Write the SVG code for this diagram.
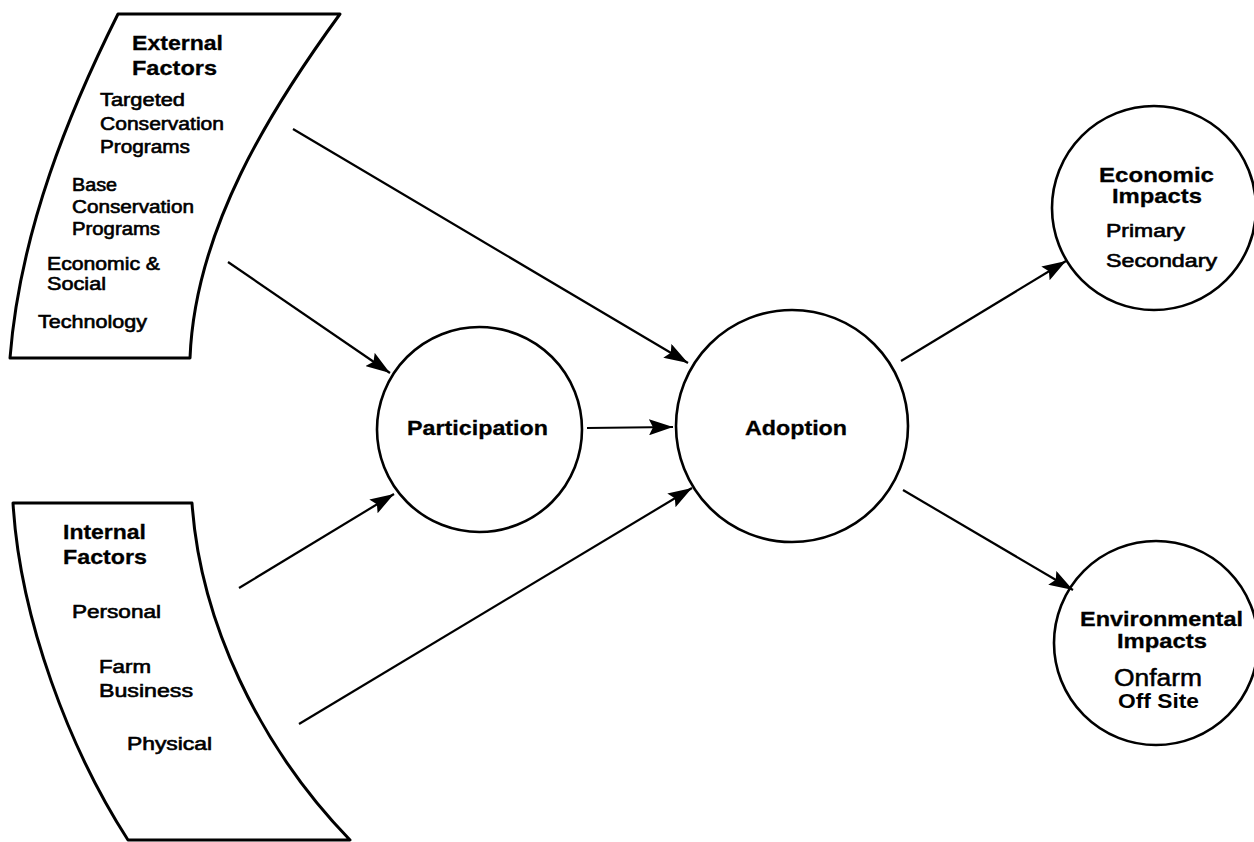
<svg xmlns="http://www.w3.org/2000/svg" width="1254" height="842" viewBox="0 0 1254 842">
<style>
.shape{fill:#fff;stroke:#000;stroke-width:3;stroke-linejoin:round}
.circ{fill:#fff;stroke:#000;stroke-width:2.6}
.conn{fill:none;stroke:#000;stroke-width:2.2}
text{font-family:"Liberation Sans",Arial,Helvetica,sans-serif;fill:#000}
.t{font-size:21px;font-weight:bold;stroke:#000;stroke-width:0.3}
.i{font-size:18px;font-weight:normal;stroke:#000;stroke-width:0.6}
.ib{font-size:20px;font-weight:bold}
.on{font-size:23px;font-weight:normal;stroke:#000;stroke-width:0.5}
</style>
<defs>
<marker id="ah" markerUnits="userSpaceOnUse" markerWidth="26" markerHeight="16" refX="24" refY="8" orient="auto">
<path d="M0,0 L24,8 L0,16 L4,8 z" fill="#000"/>
</marker>
</defs>
<rect width="1254" height="842" fill="#fff"/>

<g id="external-factors">
<path class="shape" d="M118,14 L340,14 C270,110 195,230 190,358 L10,358 C20,230 70,110 118,14 Z"/>
<text class="t" x="132" y="50" textLength="91" lengthAdjust="spacingAndGlyphs">External</text>
<text class="t" x="132" y="75" textLength="85" lengthAdjust="spacingAndGlyphs">Factors</text>
<text class="i" x="100" y="106" textLength="85" lengthAdjust="spacingAndGlyphs">Targeted</text>
<text class="i" x="100" y="130" textLength="124" lengthAdjust="spacingAndGlyphs">Conservation</text>
<text class="i" x="100" y="153" textLength="90" lengthAdjust="spacingAndGlyphs">Programs</text>
<text class="i" x="72" y="191" textLength="45" lengthAdjust="spacingAndGlyphs">Base</text>
<text class="i" x="72" y="213" textLength="122" lengthAdjust="spacingAndGlyphs">Conservation</text>
<text class="i" x="72" y="235" textLength="88" lengthAdjust="spacingAndGlyphs">Programs</text>
<text class="i" x="47" y="270" textLength="113" lengthAdjust="spacingAndGlyphs">Economic &amp;</text>
<text class="i" x="47" y="290" textLength="59" lengthAdjust="spacingAndGlyphs">Social</text>
<text class="i" x="38" y="328" textLength="109" lengthAdjust="spacingAndGlyphs">Technology</text>
</g>

<g id="internal-factors">
<path class="shape" d="M13,503 L192,503 C200,620 258,745 350,840 L128,840 C70,750 20,620 13,503 Z"/>
<text class="t" x="63" y="539" textLength="83" lengthAdjust="spacingAndGlyphs">Internal</text>
<text class="t" x="63" y="564" textLength="84" lengthAdjust="spacingAndGlyphs">Factors</text>
<text class="i" x="72" y="618" textLength="89" lengthAdjust="spacingAndGlyphs">Personal</text>
<text class="i" x="99" y="673" textLength="52" lengthAdjust="spacingAndGlyphs">Farm</text>
<text class="i" x="99" y="697" textLength="94" lengthAdjust="spacingAndGlyphs">Business</text>
<text class="i" x="127" y="750" textLength="85" lengthAdjust="spacingAndGlyphs">Physical</text>
</g>

<g id="participation">
<circle class="circ" cx="479.5" cy="429.5" r="102.5"/>
<text class="t" x="407" y="435" textLength="141" lengthAdjust="spacingAndGlyphs">Participation</text>
</g>

<g id="adoption">
<circle class="circ" cx="792" cy="426" r="116"/>
<text class="t" x="745" y="435" textLength="102" lengthAdjust="spacingAndGlyphs">Adoption</text>
</g>

<g id="economic-impacts">
<circle class="circ" cx="1154" cy="208" r="102"/>
<text class="t" x="1099" y="182" textLength="115" lengthAdjust="spacingAndGlyphs">Economic</text>
<text class="t" x="1112" y="203" textLength="90" lengthAdjust="spacingAndGlyphs">Impacts</text>
<text class="i" x="1106" y="237" textLength="79" lengthAdjust="spacingAndGlyphs">Primary</text>
<text class="i" x="1106" y="267" textLength="111" lengthAdjust="spacingAndGlyphs">Secondary</text>
</g>

<g id="environmental-impacts">
<circle class="circ" cx="1156" cy="643" r="102"/>
<text class="t" x="1080" y="626" textLength="163" lengthAdjust="spacingAndGlyphs">Environmental</text>
<text class="t" x="1117" y="648" textLength="90" lengthAdjust="spacingAndGlyphs">Impacts</text>
<text class="on" x="1114" y="686" textLength="88" lengthAdjust="spacingAndGlyphs">Onfarm</text>
<text class="ib" x="1118" y="708" textLength="81" lengthAdjust="spacingAndGlyphs">Off Site</text>
</g>

<g id="connectors">
<line class="conn" x1="293" y1="129" x2="688" y2="363" marker-end="url(#ah)"/>
<line class="conn" x1="228" y1="262" x2="390" y2="373" marker-end="url(#ah)"/>
<line class="conn" x1="239" y1="588" x2="394" y2="494" marker-end="url(#ah)"/>
<line class="conn" x1="299" y1="724" x2="692" y2="488" marker-end="url(#ah)"/>
<line class="conn" x1="587" y1="428" x2="673" y2="427" marker-end="url(#ah)"/>
<line class="conn" x1="901" y1="361" x2="1066" y2="261" marker-end="url(#ah)"/>
<line class="conn" x1="903" y1="490" x2="1073" y2="590" marker-end="url(#ah)"/>
</g>
</svg>
